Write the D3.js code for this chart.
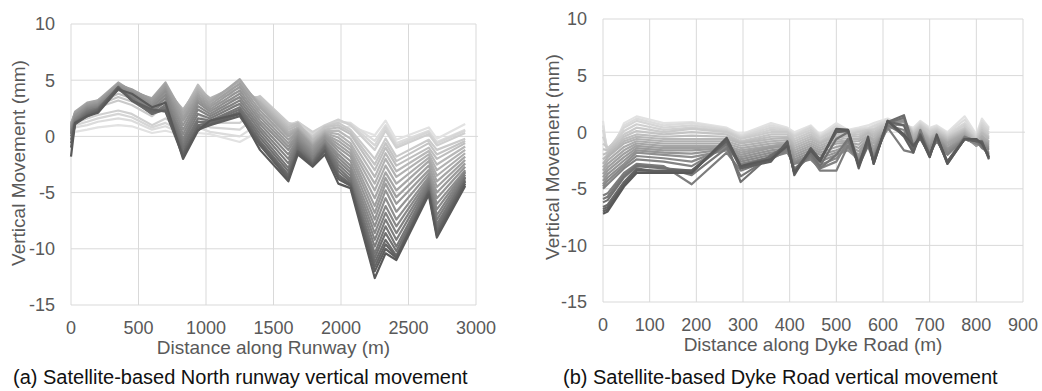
<!DOCTYPE html>
<html>
<head>
<meta charset="utf-8">
<script src="https://cdn.jsdelivr.net/npm/d3@7"></script>
<style>
  body { margin: 0; background: #fff; }
  svg { display: block; font-family: "Liberation Sans", Arial, sans-serif; }
</style>
</head>
<body>
<svg id="chart" width="1042" height="391"></svg>
<script>
// ---- data (mm) ----
const runwayDistance = [0, 30, 120, 200, 350, 450, 600, 700, 830, 940, 1030, 1250, 1400, 1610, 1680, 1790, 1880, 1980, 2070, 2250, 2330, 2410, 2650, 2710, 2920];

// lightest (earliest) -> darkest (latest)
const runwayMovement = [
  [0.0, 0.4, 0.6, 0.8, 1.0, 0.9, 0.3, 0.5, 0.1, 0.3, 0.2, -0.5, 0.5, 0.2, 0.6, -0.1, 0.3, 0.6, 0.9, 0.1, 1.4, -0.3, 0.8, -0.2, 1.1],
  [0.3, 0.8, 1.0, 1.3, 1.6, 1.4, 0.6, 0.9, 0.2, 0.8, 0.4, 0.0, 1.2, 0.8, 1.2, 0.2, 0.6, 1.3, 1.2, -0.4, 1.0, -0.6, 0.5, -0.5, 0.6],
  [0.5, 1.0, 1.3, 1.6, 2.0, 1.7, 0.8, 1.2, 0.4, 1.4, 0.8, 0.6, 2.0, 0.9, 1.3, 0.3, 0.8, 1.4, 1.1, -0.8, 0.8, -0.8, 0.4, -0.6, 0.5],
  [0.6, 1.2, 1.6, 1.9, 2.3, 2.0, 1.0, 1.6, 0.6, 2.0, 1.2, 1.2, 2.6, 1.0, 1.3, 0.4, 1.0, 1.5, 1.0, -1.2, 0.5, -1.0, 0.2, -0.8, 0.3],
  [0.8, 1.6, 2.2, 2.6, 3.2, 2.8, 1.8, 2.8, 1.4, 3.6, 2.4, 2.8, 3.6, 1.2, 1.0, 0.0, 0.9, 1.2, 0.6, -2.0, -0.2, -1.8, -0.3, -1.2, -0.2],
  [0.9, 1.7, 2.4, 2.8, 3.5, 3.1, 2.2, 3.2, 1.8, 4.2, 2.8, 3.4, 3.5, 1.0, 1.1, -0.2, 0.8, 1.0, 0.4, -2.5, -0.6, -2.2, -0.6, -1.6, -0.4],
  [1.0, 1.8, 2.6, 3.0, 3.8, 3.4, 2.6, 3.6, 2.2, 4.6, 3.2, 4.0, 3.3, 0.8, 1.2, -0.3, 0.6, 0.8, 0.2, -3.0, -1.0, -2.6, -1.0, -2.0, -0.6],
  [1.1, 1.9, 2.7, 3.1, 4.1, 3.6, 2.8, 3.9, 2.3, 4.4, 3.3, 4.3, 3.1, 0.6, 1.0, -0.4, 0.5, 0.5, -0.2, -3.6, -1.5, -3.1, -1.3, -2.5, -0.9],
  [1.2, 2.0, 2.8, 3.2, 4.4, 3.8, 3.0, 4.2, 2.4, 4.2, 3.4, 4.6, 3.0, 0.4, 0.8, -0.6, 0.4, 0.2, -0.6, -4.2, -2.0, -3.6, -1.6, -3.0, -1.2],
  [1.1, 2.1, 2.9, 3.2, 4.6, 3.9, 3.2, 4.5, 2.2, 4.0, 3.2, 4.9, 2.8, 0.2, 0.7, -0.7, 0.3, -0.1, -0.9, -4.8, -2.6, -4.2, -1.9, -3.5, -1.5],
  [1.0, 2.2, 3.0, 3.2, 4.8, 4.0, 3.4, 4.8, 2.0, 3.8, 3.0, 5.1, 2.6, 0.0, 0.6, -0.8, 0.2, -0.4, -1.2, -5.5, -3.2, -4.8, -2.2, -4.0, -1.8],
  [0.9, 2.1, 2.9, 3.1, 4.7, 4.1, 3.3, 4.6, 1.7, 3.6, 2.8, 4.7, 2.3, -0.3, 0.5, -0.9, 0.1, -0.7, -1.5, -6.2, -3.7, -5.4, -2.6, -4.5, -2.1],
  [0.8, 2.0, 2.8, 3.0, 4.6, 4.2, 3.2, 4.4, 1.4, 3.4, 2.6, 4.4, 2.0, -0.6, 0.4, -1.0, 0.0, -1.0, -1.8, -6.8, -4.2, -6.0, -3.0, -5.0, -2.4],
  [0.7, 1.9, 2.7, 2.9, 4.5, 4.0, 3.0, 4.2, 1.0, 3.2, 2.4, 4.1, 1.7, -0.9, 0.2, -1.2, -0.1, -1.3, -2.2, -7.4, -4.8, -6.7, -3.3, -5.5, -2.7],
  [0.6, 1.8, 2.6, 2.8, 4.4, 3.9, 2.8, 4.0, 0.6, 3.0, 2.2, 3.8, 1.4, -1.2, 0.0, -1.4, -0.3, -1.6, -2.6, -8.0, -5.5, -7.4, -3.6, -6.0, -3.0],
  [0.5, 1.6, 2.5, 2.7, 4.3, 3.7, 2.6, 3.7, 0.2, 2.7, 2.0, 3.5, 1.1, -1.6, -0.2, -1.6, -0.4, -1.9, -2.9, -8.6, -6.2, -8.0, -3.8, -6.5, -3.1],
  [0.4, 1.5, 2.4, 2.6, 4.2, 3.6, 2.4, 3.4, -0.2, 2.4, 1.8, 3.2, 0.8, -2.0, -0.4, -1.8, -0.6, -2.2, -3.2, -9.2, -6.8, -8.6, -4.0, -7.0, -3.2],
  [0.3, 1.4, 2.3, 2.5, 4.2, 3.5, 2.2, 3.1, -0.5, 2.0, 1.6, 2.9, 0.5, -2.4, -0.6, -2.0, -0.7, -2.5, -3.5, -9.8, -7.4, -9.2, -4.2, -7.4, -3.4],
  [0.2, 1.3, 2.2, 2.5, 4.3, 3.4, 2.0, 2.8, -0.8, 1.6, 1.4, 2.6, 0.2, -2.8, -0.8, -2.2, -0.8, -2.8, -3.8, -10.4, -8.0, -9.8, -4.4, -7.8, -3.6],
  [0.0, 1.2, 2.1, 2.4, 4.3, 3.3, 2.0, 2.6, -1.1, 1.3, 1.3, 2.4, -0.1, -3.1, -1.0, -2.3, -0.9, -3.1, -4.0, -10.8, -8.6, -10.2, -4.6, -8.1, -3.7],
  [-0.3, 1.2, 2.0, 2.4, 4.4, 3.2, 2.0, 2.4, -1.4, 1.0, 1.2, 2.2, -0.4, -3.4, -1.2, -2.4, -1.0, -3.4, -4.2, -11.2, -9.2, -10.6, -4.8, -8.4, -3.9],
  [-0.6, 1.1, 1.9, 2.3, 4.4, 3.2, 2.2, 2.3, -1.6, 0.8, 1.1, 2.0, -0.6, -3.6, -1.3, -2.5, -1.2, -3.6, -4.3, -11.6, -9.6, -10.7, -4.9, -8.6, -4.0],
  [-1.0, 1.1, 1.8, 2.2, 4.3, 3.2, 2.4, 2.2, -1.8, 0.6, 1.0, 1.8, -0.8, -3.8, -1.4, -2.6, -1.3, -3.8, -4.4, -12.0, -10.0, -10.8, -5.0, -8.8, -4.2],
  [-1.8, 1.2, 1.8, 2.1, 4.2, 3.8, 2.6, 3.0, -2.0, 0.5, 1.4, 2.0, -1.2, -4.0, -1.6, -2.7, -1.6, -4.2, -4.6, -12.6, -10.4, -11.0, -5.2, -9.0, -4.4]
];

const dykeDistance = [0, 10, 45, 72, 130, 190, 265, 295, 360, 395, 410, 445, 465, 500, 525, 548, 568, 580, 610, 645, 665, 680, 700, 715, 738, 775, 800, 812, 827];

const dykeMovement = [
  [1.0, -2.4, 0.8, 1.4, 0.8, 0.9, 0.4, -0.2, 0.8, 0.4, 0.0, 0.6, -0.2, 0.8, 0.2, 0.4, 0.6, 0.8, 1.2, 0.6, 0.4, 1.0, 0.4, 0.6, 0.0, 1.4, -0.2, 1.2, 0.4],
  [0.6, -2.0, 0.6, 1.2, 0.6, 0.8, 0.3, -0.3, 0.6, 0.3, -0.2, 0.5, -0.3, 0.6, 0.1, 0.3, 0.4, 0.6, 1.1, 0.7, 0.3, 0.9, 0.3, 0.5, -0.1, 1.1, -0.3, 1.0, 0.3],
  [0.2, -1.6, 0.4, 1.0, 0.4, 0.6, 0.2, -0.4, 0.4, 0.2, -0.3, 0.4, -0.4, 0.5, 0.0, 0.2, 0.3, 0.5, 1.0, 0.8, 0.2, 0.8, 0.2, 0.4, -0.2, 0.8, -0.4, 0.8, 0.2],
  [-0.4, -1.5, 0.1, 0.7, 0.2, 0.4, 0.1, -0.5, 0.2, 0.1, -0.4, 0.2, -0.5, 0.3, -0.1, 0.1, 0.2, 0.3, 0.9, 0.9, 0.1, 0.7, 0.1, 0.3, -0.3, 0.6, -0.5, 0.6, 0.0],
  [-1.0, -1.4, -0.2, 0.4, 0.0, 0.3, 0.0, -0.6, 0.0, 0.0, -0.6, 0.0, -0.6, 0.2, -0.2, 0.0, 0.2, 0.2, 0.8, 0.9, 0.0, 0.6, 0.0, 0.2, -0.4, 0.4, -0.6, 0.4, -0.2],
  [-1.5, -1.6, -0.4, 0.1, -0.2, 0.0, -0.2, -0.8, -0.2, -0.2, -0.8, -0.2, -0.8, 0.0, -0.3, -0.2, 0.1, 0.0, 0.7, 1.0, -0.1, 0.5, -0.2, 0.1, -0.5, 0.3, -0.7, 0.2, -0.4],
  [-2.0, -1.8, -0.6, -0.2, -0.4, -0.3, -0.4, -0.9, -0.4, -0.4, -1.0, -0.4, -0.9, -0.2, -0.4, -0.4, 0.0, -0.2, 0.6, 1.0, -0.2, 0.4, -0.4, 0.0, -0.6, 0.2, -0.8, 0.0, -0.5],
  [-2.4, -2.0, -0.8, -0.4, -0.6, -0.6, -0.6, -1.0, -0.6, -0.5, -1.2, -0.6, -1.0, -0.4, -0.6, -0.6, -0.1, -0.4, 0.5, 1.0, -0.3, 0.3, -0.5, -0.1, -0.7, 0.1, -0.9, -0.1, -0.6],
  [-2.8, -2.2, -1.0, -0.6, -0.8, -0.8, -0.8, -1.2, -0.8, -0.7, -1.4, -0.8, -1.2, -0.6, -0.8, -0.8, -0.3, -0.6, 0.4, 1.1, -0.4, 0.2, -0.6, -0.2, -0.8, 0.0, -1.0, -0.3, -0.8],
  [-3.1, -2.5, -1.3, -0.8, -1.0, -1.0, -1.0, -1.4, -1.0, -0.9, -1.6, -1.0, -1.4, -0.8, -0.9, -1.1, -0.4, -0.8, 0.3, 1.0, -0.6, 0.1, -0.7, -0.3, -0.9, -0.1, -1.1, -0.4, -0.9],
  [-3.4, -2.8, -1.6, -1.0, -1.2, -1.2, -1.2, -1.6, -1.2, -1.0, -1.8, -1.2, -1.6, -1.0, -1.0, -1.4, -0.6, -1.0, 0.2, 1.0, -0.8, 0.0, -0.8, -0.4, -1.0, -0.2, -1.2, -0.6, -1.0],
  [-3.7, -3.1, -1.9, -1.2, -1.4, -1.4, -1.3, -1.8, -1.3, -1.1, -2.0, -1.4, -1.8, -1.3, -1.1, -1.7, -0.7, -1.3, 0.4, 1.1, -0.9, -0.1, -1.0, -0.4, -1.2, -0.3, -1.2, -0.7, -1.1],
  [-4.0, -3.4, -2.2, -1.4, -1.6, -1.6, -1.4, -2.0, -1.4, -1.2, -2.2, -1.6, -2.0, -1.6, -1.2, -2.0, -0.8, -1.6, 0.6, 1.2, -1.0, -0.2, -1.2, -0.4, -1.4, -0.4, -1.2, -0.8, -1.2],
  [-4.3, -3.7, -2.5, -1.6, -1.8, -1.9, -1.5, -2.2, -1.6, -1.4, -2.4, -1.8, -2.3, -1.8, -1.4, -2.2, -0.9, -1.8, 0.7, 1.1, -1.1, -0.3, -1.3, -0.5, -1.5, -0.5, -1.1, -0.9, -1.3],
  [-4.6, -4.0, -2.8, -1.8, -2.0, -2.2, -1.6, -2.4, -1.8, -1.6, -2.6, -2.0, -2.6, -2.0, -1.6, -2.4, -1.0, -2.0, 0.8, 1.0, -1.2, -0.4, -1.4, -0.6, -1.6, -0.6, -1.0, -1.0, -1.4],
  [-4.8, -4.3, -3.0, -2.1, -2.3, -2.6, -1.4, -2.6, -2.0, -1.7, -2.7, -2.2, -2.9, -2.3, -1.2, -2.6, -0.9, -2.2, 0.7, 0.6, -1.4, -0.3, -1.6, -0.7, -1.8, -0.6, -1.0, -1.1, -1.5],
  [-5.0, -4.6, -3.2, -2.4, -2.6, -3.0, -1.2, -2.8, -2.2, -1.8, -2.8, -2.4, -3.2, -2.6, -0.8, -2.8, -0.8, -2.4, 0.6, 0.2, -1.6, -0.2, -1.8, -0.8, -2.0, -0.6, -1.0, -1.2, -1.6],
  [-5.6, -5.4, -3.6, -2.8, -3.0, -4.6, -1.8, -3.4, -2.4, -1.6, -3.2, -2.2, -3.4, -3.4, -1.2, -2.6, -1.0, -2.2, 0.4, -1.6, -1.8, 0.2, -2.0, -0.6, -2.6, -0.4, -0.8, -1.4, -1.8],
  [-5.9, -5.7, -3.8, -2.9, -3.1, -3.8, -1.4, -3.9, -2.2, -1.4, -3.4, -2.0, -3.2, -2.0, -0.6, -2.8, -1.1, -2.4, 0.6, -0.2, -1.6, -0.1, -2.1, -0.5, -2.7, -0.5, -0.7, -1.3, -1.9],
  [-6.2, -6.0, -4.0, -3.0, -3.2, -3.4, -1.0, -4.4, -2.0, -1.2, -3.6, -1.8, -3.0, -0.6, 0.0, -3.0, -1.2, -2.6, 0.8, 1.3, -1.4, -0.4, -2.2, -0.4, -2.8, -0.6, -0.6, -1.2, -2.0],
  [-6.6, -6.4, -4.4, -3.2, -3.6, -3.6, -0.6, -3.0, -2.2, -1.0, -3.4, -1.6, -2.6, 0.2, 0.2, -2.8, -0.6, -2.8, 0.9, 1.5, -1.2, -0.6, -2.0, -0.6, -2.6, -0.6, -0.8, -1.0, -2.2],
  [-6.8, -6.6, -4.5, -3.3, -3.5, -3.5, -0.7, -3.1, -2.4, -0.9, -3.6, -1.5, -2.5, 0.1, 0.15, -3.0, -0.7, -2.7, 0.95, 0.6, -1.5, -0.4, -2.0, -0.5, -2.6, -0.6, -0.8, -0.9, -2.3],
  [-7.0, -6.8, -4.6, -3.4, -3.4, -3.4, -0.8, -3.2, -2.6, -0.8, -3.8, -1.4, -2.4, 0.0, 0.1, -3.2, -0.8, -2.6, 1.0, -0.4, -1.8, -0.2, -2.0, -0.4, -2.6, -0.6, -0.8, -0.8, -2.4],
  [-7.2, -7.0, -4.8, -3.6, -3.6, -3.6, -0.5, -3.0, -2.4, -1.2, -3.6, -1.6, -2.6, 0.3, 0.2, -3.0, -0.4, -2.8, 1.0, -0.2, -1.2, -0.4, -2.2, -0.2, -2.8, -0.6, -0.6, -1.0, -2.2]
];

const yTicks = [10, 5, 0, -5, -10, -15];
const runwayTicks = [0, 500, 1000, 1500, 2000, 2500, 3000];
const dykeTicks = [0, 100, 200, 300, 400, 500, 600, 700, 800, 900];

const svg = d3.select("#chart");

function drawPanel(p) {
    const x = d3.scaleLinear().domain(p.xDomain).range([p.left, p.right]);
    const y = d3.scaleLinear().domain([-15, 10]).range([p.bottom, p.top]);
    const g = svg.append("g");

    // gridlines
    g.selectAll(".vgrid").data(p.xTicks).join("line")
        .attr("x1", d => x(d)).attr("x2", d => x(d))
        .attr("y1", p.top).attr("y2", p.bottom)
        .attr("stroke", "#d9d9d9").attr("stroke-width", 1);
    g.selectAll(".hgrid").data(yTicks).join("line")
        .attr("x1", p.left).attr("x2", d => d === 0 ? p.right + 2 : p.right)
        .attr("y1", d => y(d)).attr("y2", d => y(d))
        .attr("stroke", "#d9d9d9").attr("stroke-width", 1);

    // series, light first so darker ones sit on top
    const color = d3.scaleLinear()
        .domain([0, p.series.length - 1])
        .range(["#e2e2e2", "#595959"]);
    const line = d3.line()
        .x((d, i) => x(p.xs[i]))
        .y(d => y(d));
    g.selectAll(".series").data(p.series).join("path")
        .attr("d", line)
        .attr("fill", "none")
        .attr("stroke", (d, i) => color(i))
        .attr("stroke-width", 2.2)
        .attr("stroke-linejoin", "round");

    // tick labels
    g.selectAll(".ylab").data(yTicks).join("text")
        .attr("x", p.left - 16).attr("y", d => y(d)).attr("dy", "0.35em")
        .attr("text-anchor", "end")
        .style("font-size", "18px").style("fill", "#595959")
        .text(d => d);
    g.selectAll(".xlab").data(p.xTicks).join("text")
        .attr("x", d => x(d)).attr("y", p.bottom + 29)
        .attr("text-anchor", "middle")
        .style("font-size", "18px").style("fill", "#595959")
        .text(d => d);

    // axis titles
    g.append("text")
        .attr("x", (p.left + p.right) / 2).attr("y", p.bottom + 49)
        .attr("text-anchor", "middle")
        .style("font-size", "19px").style("fill", "#595959")
        .text(p.xTitle);
    g.append("text")
        .attr("transform", `translate(${p.yTitleX}, ${p.yTitleY}) rotate(-90)`)
        .attr("text-anchor", "middle").attr("dy", "0.35em")
        .style("font-size", "19px").style("fill", "#595959")
        .text("Vertical Movement (mm)");

    // caption
    g.append("text")
        .attr("x", p.captionX).attr("y", 384)
        .style("font-size", "20px").style("fill", "#111")
        .text(p.caption);
}

drawPanel({
    xs: runwayDistance, series: runwayMovement, xDomain: [0, 3000], xTicks: runwayTicks,
    left: 71, right: 476, top: 24, bottom: 305,
    yTitleX: 18, yTitleY: 163, captionX: 13,
    xTitle: "Distance along Runway (m)",
    caption: "(a) Satellite-based North runway vertical movement"
});

drawPanel({
    xs: dykeDistance, series: dykeMovement, xDomain: [0, 900], xTicks: dykeTicks,
    left: 603, right: 1023, top: 19, bottom: 302,
    yTitleX: 552, yTitleY: 157, captionX: 563,
    xTitle: "Distance along Dyke Road (m)",
    caption: "(b) Satellite-based Dyke Road vertical movement"
});
</script>
</body>
</html>
